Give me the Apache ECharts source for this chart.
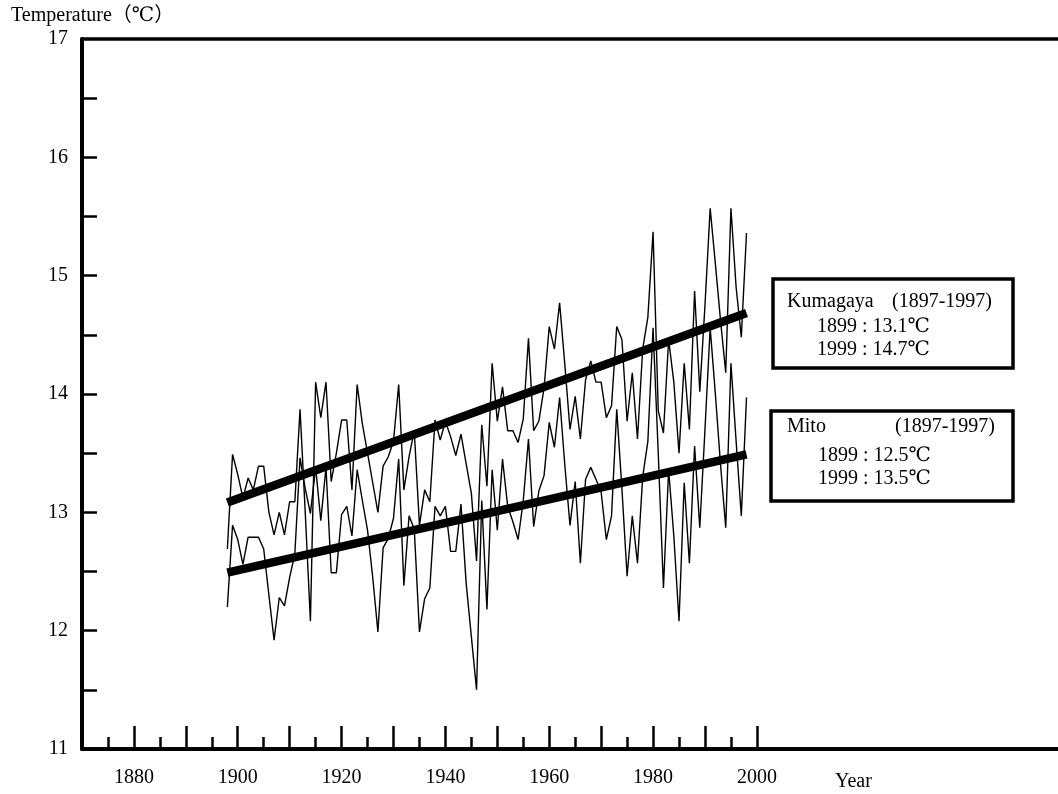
<!DOCTYPE html>
<html>
<head>
<meta charset="utf-8">
<title>Annual mean temperature: Kumagaya and Mito</title>
<script src="https://cdn.jsdelivr.net/npm/echarts@6.0.0/dist/echarts.min.js"></script>
<style>
  html, body { margin: 0; padding: 0; background: #fff; }
  #chart { width: 1058px; height: 794px; }
</style>
</head>
<body>
<div id="chart"></div>
<script>
// Annual mean temperature (°C), one value per year starting at firstYear
const firstYear = 1898;

const kumagaya = [
  12.69, 13.49, 13.32, 13.12, 13.29, 13.19, 13.39, 13.39, 13.00, 12.81,
  13.00, 12.81, 13.09, 13.09, 13.87, 13.00, 12.08, 14.10, 13.80, 14.10,
  13.26, 13.50, 13.78, 13.78, 13.19, 14.08, 13.75, 13.50, 13.25, 13.00,
  13.39, 13.47, 13.60, 14.08, 13.19, 13.47, 13.69, 12.89, 13.19, 13.09,
  13.78, 13.61, 13.77, 13.64, 13.48, 13.66, 13.41, 13.16, 12.59, 13.74,
  13.22, 14.26, 13.77, 14.06, 13.69, 13.69, 13.59, 13.79, 14.47, 13.69,
  13.77, 14.05, 14.57, 14.38, 14.77, 14.25, 13.70, 13.98, 13.62, 14.12,
  14.28, 14.10, 14.10, 13.80, 13.90, 14.57, 14.46, 13.77, 14.18, 13.62,
  14.38, 14.65, 15.37, 13.86, 13.67, 14.46, 14.10, 13.50, 14.26, 13.70,
  14.87, 14.02, 14.75, 15.57, 15.10, 14.62, 14.18, 15.57, 14.90, 14.48,
  15.36
];

const mito = [
  12.20, 12.89, 12.77, 12.56, 12.79, 12.79, 12.79, 12.69, 12.30, 11.92,
  12.28, 12.21, 12.45, 12.65, 13.46, 13.20, 12.99, 13.38, 12.93, 13.38,
  12.49, 12.49, 12.98, 13.05, 12.80, 13.36, 13.10, 12.85, 12.45, 11.99,
  12.70, 12.78, 12.95, 13.45, 12.38, 12.97, 12.86, 11.99, 12.27, 12.36,
  13.05, 12.97, 13.05, 12.67, 12.67, 13.07, 12.40, 11.95, 11.50, 13.10,
  12.18, 13.36, 12.85, 13.45, 13.05, 12.92, 12.77, 13.10, 13.62, 12.88,
  13.18, 13.31, 13.76, 13.55, 13.97, 13.40, 12.89, 13.26, 12.57, 13.28,
  13.38, 13.28, 13.17, 12.77, 12.97, 13.87, 13.20, 12.46, 12.97, 12.57,
  13.30, 13.60, 14.56, 13.50, 12.36, 13.36, 12.80, 12.08, 13.25, 12.57,
  13.56, 12.87, 13.70, 14.56, 14.00, 13.40, 12.87, 14.26, 13.60, 12.97,
  13.97
];

// Linear trend values stated for each station
const trendYears = [1899, 1999];
const kumagayaTrend = [13.1, 14.7];
const mitoTrend = [12.5, 13.5];
const trendSpan = [1898, 1998];
const recordPeriod = '(1897-1997)';

// Axis ticks and labels
const xLabelYears = [1880, 1900, 1920, 1940, 1960, 1980, 2000];
const xMajorTicks = [1880, 1890, 1900, 1910, 1920, 1930, 1940, 1950, 1960, 1970, 1980, 1990, 2000];
const xMinorTicks = [1875, 1885, 1895, 1905, 1915, 1925, 1935, 1945, 1955, 1965, 1975, 1985, 1995];
const yLabelValues = [11, 12, 13, 14, 15, 16, 17];
const yTickValues = [11.5, 12, 12.5, 13, 13.5, 14, 14.5, 15, 15.5, 16, 16.5];

const SERIF = '"Liberation Serif", "Times New Roman", "DejaVu Serif", "Noto Sans CJK JP", serif';

function toPairs(values) {
  return values.map((v, i) => [firstYear + i, v]);
}
function trendLine(vals) {
  const slope = (vals[1] - vals[0]) / (trendYears[1] - trendYears[0]);
  return trendSpan.map(y => [y, vals[0] + slope * (y - trendYears[0])]);
}
function trendText(year, v) {
  return year + ' : ' + v.toFixed(1) + '\u2103';
}

const chart = echarts.init(document.getElementById('chart'));

const baseX = { type: 'value', min: 1870, max: 2058, gridIndex: 0, splitLine: { show: false } };

chart.setOption({
  animation: false,
  backgroundColor: '#fff',
  grid: { left: 82, right: 0, top: 39, bottom: 45, containLabel: false },
  xAxis: [
    Object.assign({}, baseX, {
      position: 'bottom',
      axisLine: { show: true, onZero: false, lineStyle: { color: '#000', width: 4 } },
      axisTick: { show: true, inside: true, length: 23, customValues: xMajorTicks,
                  lineStyle: { color: '#000', width: 2.5 } },
      axisLabel: { show: true, customValues: xLabelYears, margin: 19, color: '#000',
                   fontFamily: SERIF, fontSize: 20, formatter: v => String(v) }
    }),
    Object.assign({}, baseX, {
      position: 'bottom',
      axisLine: { show: false },
      axisTick: { show: true, inside: true, length: 12, customValues: xMinorTicks,
                  lineStyle: { color: '#000', width: 2.5 } },
      axisLabel: { show: false }
    }),
    Object.assign({}, baseX, {
      position: 'top',
      axisLine: { show: true, onZero: false, lineStyle: { color: '#000', width: 3.5 } },
      axisTick: { show: false },
      axisLabel: { show: false }
    })
  ],
  yAxis: {
    type: 'value', min: 11, max: 17, interval: 0.5,
    axisLine: { show: true, onZero: false, lineStyle: { color: '#000', width: 4 } },
    axisTick: { show: true, inside: true, length: 15, customValues: yTickValues,
                lineStyle: { color: '#000', width: 2.5 } },
    axisLabel: { show: true, customValues: yLabelValues, margin: 14, color: '#000',
                 fontFamily: SERIF, fontSize: 20, formatter: v => String(v) },
    splitLine: { show: false }
  },
  series: [
    {
      name: 'Kumagaya', type: 'line', data: toPairs(kumagaya), showSymbol: false,
      lineStyle: { color: '#000', width: 1.4 }, z: 2
    },
    {
      name: 'Mito', type: 'line', data: toPairs(mito), showSymbol: false,
      lineStyle: { color: '#000', width: 1.4 }, z: 2
    },
    {
      name: 'Kumagaya trend', type: 'line', data: trendLine(kumagayaTrend), showSymbol: false,
      lineStyle: { color: '#000', width: 8.5, cap: 'butt' }, z: 3
    },
    {
      name: 'Mito trend', type: 'line', data: trendLine(mitoTrend), showSymbol: false,
      lineStyle: { color: '#000', width: 8.5, cap: 'butt' }, z: 3
    }
  ],
  graphic: [
    { type: 'text', left: 11, top: 6,
      style: { text: 'Temperature\uFF08\u2103\uFF09', fill: '#000', font: '20px ' + SERIF } },
    { type: 'text', left: 835, top: 772,
      style: { text: 'Year', fill: '#000', font: '20px ' + SERIF } },

    // Kumagaya box
    { type: 'rect', shape: { x: 773, y: 279, width: 240, height: 89 },
      style: { fill: '#fff', stroke: '#000', lineWidth: 3.5 }, z: 10 },
    { type: 'text', z: 11, style: { x: 787, y: 302, text: 'Kumagaya', textVerticalAlign: 'middle', fill: '#000', font: '20px ' + SERIF } },
    { type: 'text', z: 11, style: { x: 892, y: 302, text: recordPeriod, textVerticalAlign: 'middle', fill: '#000', font: '20px ' + SERIF } },
    { type: 'text', z: 11, style: { x: 817, y: 327, text: trendText(trendYears[0], kumagayaTrend[0]), textVerticalAlign: 'middle', fill: '#000', font: '20px ' + SERIF } },
    { type: 'text', z: 11, style: { x: 817, y: 350, text: trendText(trendYears[1], kumagayaTrend[1]), textVerticalAlign: 'middle', fill: '#000', font: '20px ' + SERIF } },

    // Mito box
    { type: 'rect', shape: { x: 771, y: 411, width: 242, height: 90 },
      style: { fill: '#fff', stroke: '#000', lineWidth: 3.5 }, z: 10 },
    { type: 'text', z: 11, style: { x: 787, y: 427, text: 'Mito', textVerticalAlign: 'middle', fill: '#000', font: '20px ' + SERIF } },
    { type: 'text', z: 11, style: { x: 895, y: 427, text: recordPeriod, textVerticalAlign: 'middle', fill: '#000', font: '20px ' + SERIF } },
    { type: 'text', z: 11, style: { x: 818, y: 456, text: trendText(trendYears[0], mitoTrend[0]), textVerticalAlign: 'middle', fill: '#000', font: '20px ' + SERIF } },
    { type: 'text', z: 11, style: { x: 818, y: 479, text: trendText(trendYears[1], mitoTrend[1]), textVerticalAlign: 'middle', fill: '#000', font: '20px ' + SERIF } }
  ]
});
</script>
</body>
</html>
